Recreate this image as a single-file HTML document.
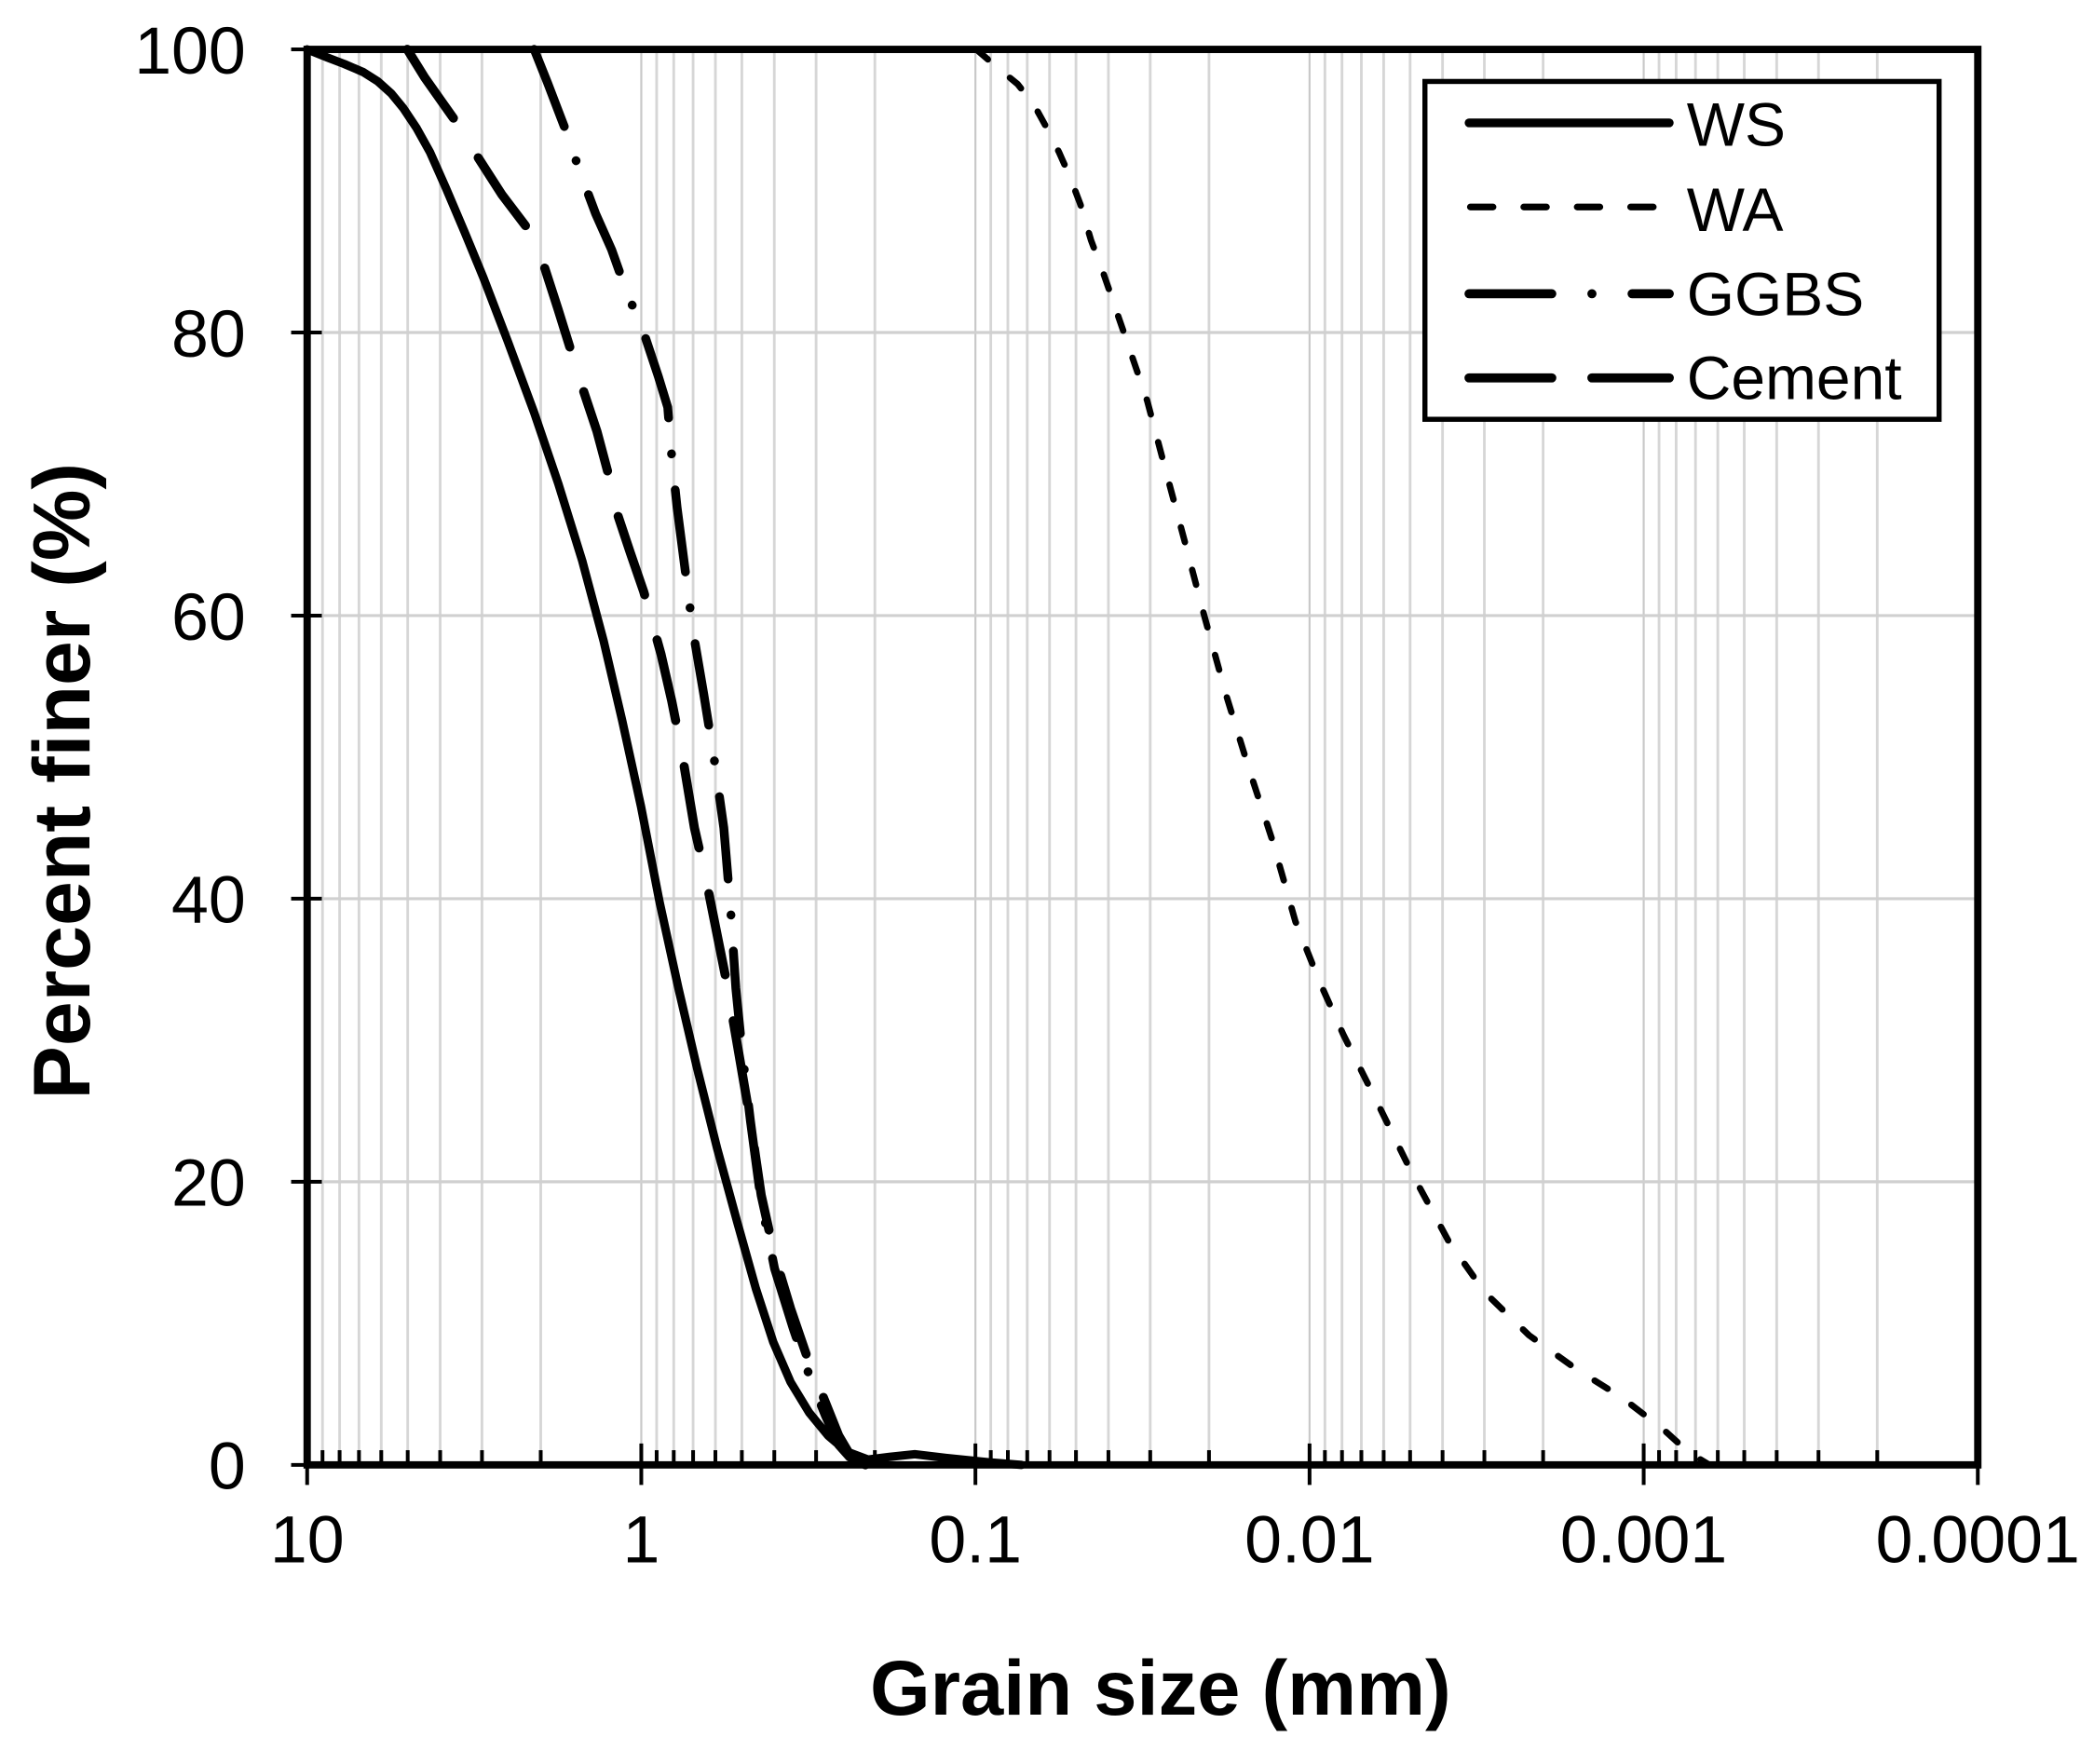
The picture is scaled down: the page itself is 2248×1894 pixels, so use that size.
<!DOCTYPE html>
<html><head><meta charset="utf-8"><style>
html,body{margin:0;padding:0;background:#fff;}
svg{display:block;}
text{font-family:"Liberation Sans",Arial,sans-serif;fill:#000;}
</style></head><body>
<svg width="2248" height="1894" viewBox="0 0 1568 1321" preserveAspectRatio="none" xmlns="http://www.w3.org/2000/svg">
<defs>
<g id="mg" stroke="#d6d6d6" stroke-width="2">
<line x1="11.5" y1="37" x2="11.5" y2="1097"/><line x1="24.3" y1="37" x2="24.3" y2="1097"/><line x1="38.8" y1="37" x2="38.8" y2="1097"/><line x1="55.5" y1="37" x2="55.5" y2="1097"/><line x1="75.3" y1="37" x2="75.3" y2="1097"/><line x1="99.6" y1="37" x2="99.6" y2="1097"/><line x1="130.9" y1="37" x2="130.9" y2="1097"/><line x1="174.9" y1="37" x2="174.9" y2="1097"/><line x1="250.2" y1="37" x2="250.2" y2="1097" stroke="#c8c8c8" stroke-width="1.5"/>
</g>
<g id="mt" stroke="#000" stroke-width="2.8">
<line x1="11.5" y1="1086" x2="11.5" y2="1097"/><line x1="24.3" y1="1086" x2="24.3" y2="1097"/><line x1="38.8" y1="1086" x2="38.8" y2="1097"/><line x1="55.5" y1="1086" x2="55.5" y2="1097"/><line x1="75.3" y1="1086" x2="75.3" y2="1097"/><line x1="99.6" y1="1086" x2="99.6" y2="1097"/><line x1="130.9" y1="1086" x2="130.9" y2="1097"/><line x1="174.9" y1="1086" x2="174.9" y2="1097"/>
</g>
</defs>
<use href="#mg" x="230"/><use href="#mg" x="480.2"/><use href="#mg" x="730.4"/><use href="#mg" x="980.6"/><use href="#mg" x="1230.8"/>
<g stroke="#d0d0d0" stroke-width="2.2">
<line x1="230" y1="249" x2="1481" y2="249"/><line x1="230" y1="461" x2="1481" y2="461"/><line x1="230" y1="673" x2="1481" y2="673"/><line x1="230" y1="885" x2="1481" y2="885"/>
</g>
<use href="#mt" x="230"/><use href="#mt" x="480.2"/><use href="#mt" x="730.4"/><use href="#mt" x="980.6"/><use href="#mt" x="1230.8"/>
<g stroke="#000" stroke-width="2.8">
<line x1="230" y1="1081" x2="230" y2="1112"/><line x1="480.2" y1="1081" x2="480.2" y2="1112"/><line x1="730.4" y1="1081" x2="730.4" y2="1112"/><line x1="980.6" y1="1081" x2="980.6" y2="1112"/><line x1="1230.8" y1="1081" x2="1230.8" y2="1112"/><line x1="1481" y1="1081" x2="1481" y2="1112"/>
<line x1="218" y1="37" x2="241" y2="37"/><line x1="218" y1="249" x2="241" y2="249"/><line x1="218" y1="461" x2="241" y2="461"/><line x1="218" y1="673" x2="241" y2="673"/><line x1="218" y1="885" x2="241" y2="885"/><line x1="218" y1="1097" x2="241" y2="1097"/>
</g>
<g fill="none" stroke="#000" stroke-linecap="round" stroke-linejoin="round">
<polyline stroke-width="6.3" points="230,37 245,43 258,48 272,54 283,61 293,70 302,81 312,96 322,114 334,141 348,174 362,208 380,255 400,309 418,362 436,420 452,480 466,540 480,604 494,676 508,740 522,800 537,860 552,915 566,965 579,1005 592,1035 606,1058 620,1075 634,1087 650,1093 666,1091 685,1089 710,1092 740,1095 765,1097"/>
<polyline stroke-width="4.8" stroke-dasharray="11.5 21.5" points="731,37 745,49 762,63 774,78 785,98 793,114 801,132 809,153 817,180 826,204 835,230 846,262 859,300 872,349 887,405 902,462 918,520 935,575 953,630 970,690 988,735 1006,775 1030,823 1058,880 1085,930 1112,968 1145,1000 1180,1025 1215,1047 1245,1070 1265,1088 1280,1097"/>
<polyline stroke-width="6.6" stroke-dasharray="62 27 0.1 27" points="400,37 410,62 423,96 434,128 446,160 458,187 469,218 482,249 493,282 500,305 503,342 507,380 511,411 519,473 527,520 535,570 542,620 547,680 551,740 556,790 562,840 570,900 580,950 594,995 606,1030 618,1060 628,1082 636,1091 648,1097"/>
<polyline stroke-width="6.8" stroke-dasharray="62 35" points="305,37 318,58 330,75 342,92 358,118 376,146 395,171 408,201 418,232 427,261 437,293 447,323 455,353 462,384 472,414 482,443 495,490 503,525 510,560 515,590 520,620 528,655 535,690 543,730 550,770 556,805 562,840 570,895 580,940 592,980 605,1018 618,1050 628,1075 638,1092 650,1097"/>
</g>
<rect x="230" y="37" width="1251" height="1060" fill="none" stroke="#000" stroke-width="5.5"/>
<rect x="1067" y="61" width="385" height="253" fill="#fff" stroke="#000" stroke-width="3.8"/>
<g fill="none" stroke="#000" stroke-linecap="round">
<line x1="1100" y1="92" x2="1250" y2="92" stroke-width="6.5"/>
<line x1="1101" y1="155" x2="1247" y2="155" stroke-width="5" stroke-dasharray="17 23"/>
<line x1="1100" y1="220" x2="1250" y2="220" stroke-width="6.8" stroke-dasharray="62 30 0.1 30"/>
<line x1="1100" y1="283" x2="1250" y2="283" stroke-width="6.8" stroke-dasharray="62 30"/>
</g>
<g font-size="46">
<text x="1263" y="109">WS</text>
<text x="1263" y="173">WA</text>
<text x="1263" y="236">GGBS</text>
<text x="1263" y="299">Cement</text>
</g>
<g font-size="50" text-anchor="end">
<text x="184" y="55">100</text><text x="184" y="267">80</text><text x="184" y="479">60</text><text x="184" y="691">40</text><text x="184" y="903">20</text><text x="184" y="1115">0</text>
</g>
<g font-size="50" text-anchor="middle">
<text x="230" y="1170">10</text><text x="480.2" y="1170">1</text><text x="730.4" y="1170">0.1</text><text x="980.6" y="1170">0.01</text><text x="1230.8" y="1170">0.001</text><text x="1481" y="1170">0.0001</text>
</g>
<text x="869" y="1284" font-size="58" font-weight="bold" text-anchor="middle">Grain size (mm)</text>
<text transform="translate(67,585) rotate(-90)" font-size="60" font-weight="bold" text-anchor="middle">Percent finer (%)</text>
</svg>
</body></html>
